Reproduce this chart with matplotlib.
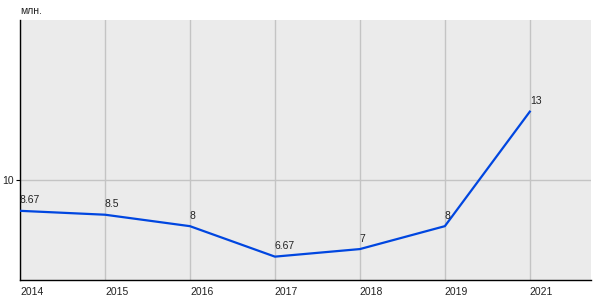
import matplotlib
matplotlib.use("Agg")
import matplotlib.pyplot as plt

plt.rcParams["font.family"] = ["Liberation Sans", "DejaVu Sans"]

years = ["2014", "2015", "2016", "2017", "2018", "2019", "2021"]
values = [8.67, 8.5, 8, 6.67, 7, 8, 13]
labels = ["8.67", "8.5", "8", "6.67", "7", "8", "13"]
yticks = [10]
unit = "млн."

fig = plt.figure(figsize=(6, 3), dpi=100)
ax = fig.add_axes([20/600, 20/300, 571/600, 260/300])
ax.set_facecolor("#ebebeb")
x = list(range(len(years)))
ax.plot(x, values, color="#0046e0", lw=1.6, zorder=3)
for xi, v, lab in zip(x, values, labels):
    ax.annotate(lab, (xi, v), xytext=(0, 4), textcoords="offset points",
                ha="left", va="bottom", fontsize=7.5, color="#222222", zorder=4)
ax.set_xlim(0, 6.72)
ax.set_ylim(5.65, 17)
ax.set_xticks(x)
ax.set_xticklabels(years, ha="left", fontsize=7.5, color="#222222")
ax.set_yticks(yticks)
ax.set_yticklabels([str(t) for t in yticks], fontsize=7.5, color="#222222")
ax.tick_params(axis="x", length=0, pad=5)
ax.tick_params(axis="y", length=3, width=0.8, pad=1.5)
ax.grid(True, color="#c4c4c4", lw=1, zorder=0)
ax.set_axisbelow(True)
for s in ["top", "right"]:
    ax.spines[s].set_visible(False)
for s in ["left", "bottom"]:
    ax.spines[s].set_color("black")
    ax.spines[s].set_linewidth(1)
ax.text(0, 1.015, unit, transform=ax.transAxes, fontsize=7.5, color="#222222",
        ha="left", va="bottom")
fig.savefig("out.png", dpi=100)
